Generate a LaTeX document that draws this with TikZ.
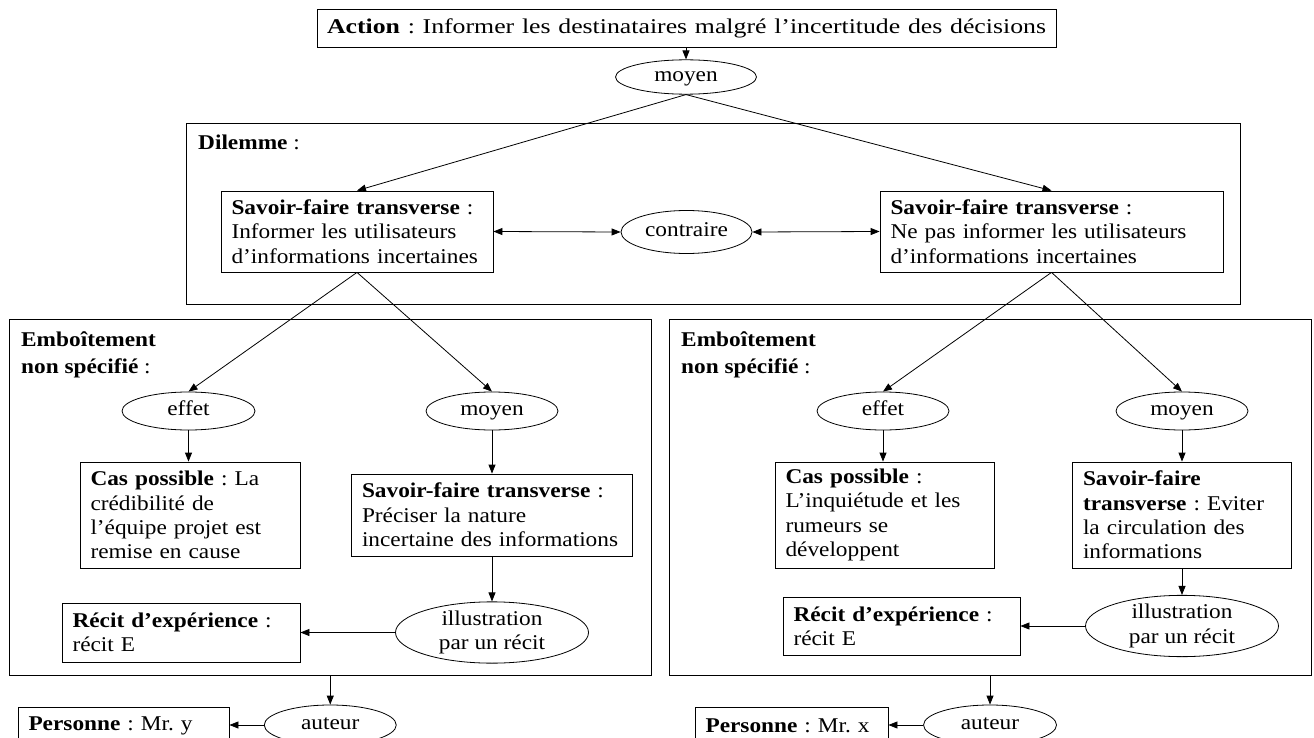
\documentclass[tikz,border=0pt]{standalone}
\usepackage{fontspec}
\setmainfont{Liberation Serif}[FakeStretch=1.11]
\usepackage{graphicx}
\usetikzlibrary{arrows.meta,shapes.geometric}
\frenchspacing
\begin{document}
\begin{tikzpicture}[x=1pt,y=-1pt,
  font=\fontsize{21}{24.3}\selectfont,
  box/.style={draw, line width=0.8pt, inner xsep=10pt, inner ysep=0pt, align=left},
  frame/.style={draw, line width=0.8pt, inner sep=0pt},
  ell/.style={draw, ellipse, line width=0.8pt, inner sep=0pt},
  ellm/.style={draw, ellipse, line width=0.8pt, inner sep=0pt, align=center},
  lbl/.style={anchor=base west, inner sep=0pt},
  arr/.style={line width=0.8pt, -{Triangle[length=9pt,width=7pt]}},
  dbl/.style={line width=0.8pt, {Triangle[length=9pt,width=7pt]}-{Triangle[length=9pt,width=7pt]}}]
\useasboundingbox (0,0) rectangle (1314,738);
\clip (0,0) rectangle (1314,738);

% top
\node[box, minimum width=739pt, minimum height=38pt, text width=719pt] (act) at (686.5,28)
  {\resizebox{719pt}{\height}{\textbf{Action} : Informer les destinataires malgré l’incertitude des décisions}};
\node[ell, minimum width=141pt, minimum height=30pt] (tm) at (686,77) {\strut moyen};

% dilemme
\node[frame, minimum width=1054pt, minimum height=181pt] (dil) at (713,213.5) {};
\node[lbl] (dillbl) at (198,150) {\textbf{Dilemme} :};
\node[box, minimum width=272pt, minimum height=81pt, text width=251pt] (sftL) at (357,231.5)
  {\textbf{Savoir-faire transverse} :\\Informer les utilisateurs\\d’informations incertaines};
\node[box, minimum width=343pt, minimum height=81pt, text width=322pt] (sftR) at (1051.5,231.5)
  {\textbf{Savoir-faire transverse} :\\Ne pas informer les utilisateurs\\d’informations incertaines};
\node[ell, minimum width=131pt, minimum height=43pt] (contr) at (686.5,232) {\strut contraire};

% emboitement frames
\node[frame, minimum width=642.5pt, minimum height=356pt] (embL) at (330.25,497) {};
\node[frame, minimum width=642pt, minimum height=356pt] (embR) at (990,497) {};
\node[lbl] (embLa) at (21,346) {\textbf{Emboîtement}};
\node[lbl] (embLb) at (21,373) {\textbf{non spécifié} :};
\node[lbl] (embRa) at (681,346) {\textbf{Emboîtement}};
\node[lbl] (embRb) at (681,373) {\textbf{non spécifié} :};

% left branch
\node[ell, minimum width=133pt, minimum height=38pt] (effL) at (188.5,411) {\strut effet};
\node[ell, minimum width=132pt, minimum height=38pt] (movL) at (492,411) {\strut moyen};
\node[box, minimum width=220pt, minimum height=106pt, text width=199pt] (casL) at (190,515)
  {\textbf{Cas possible} : La\\crédibilité de\\l’équipe projet est\\remise en cause};
\node[box, minimum width=281pt, minimum height=82pt, text width=260pt] (sft2L) at (492,515)
  {\textbf{Savoir-faire transverse} :\\Préciser la nature\\incertaine des informations};
\node[ellm, minimum width=193pt, minimum height=51pt] (illL) at (492,632.5) {illustration\\par un récit};
\node[box, minimum width=238pt, minimum height=59pt, text width=217pt] (recL) at (181,632.5)
  {\textbf{Récit d’expérience} :\\récit E};
\node[ell, minimum width=132pt, minimum height=40pt] (autL) at (330.25,725) {\strut auteur};
\node[box, minimum width=211pt, minimum height=38pt, text width=190pt] (persL) at (123.5,726)
  {\textbf{Personne} : Mr. y};

% right branch
\node[ell, minimum width=132pt, minimum height=38pt] (effR) at (883,411) {\strut effet};
\node[ell, minimum width=132pt, minimum height=38pt] (movR) at (1182,411) {\strut moyen};
\node[box, minimum width=219pt, minimum height=106pt, text width=198pt] (casR) at (884.5,515)
  {\textbf{Cas possible} :\\L’inquiétude et les\\rumeurs se\\développent};
\node[box, minimum width=219pt, minimum height=106pt, text width=198pt] (sft2R) at (1182,515)
  {\textbf{Savoir-faire}\\\textbf{transverse} : Eviter\\la circulation des\\informations};
\node[ellm, minimum width=193pt, minimum height=52pt] (illR) at (1182,626) {illustration\\par un récit};
\node[box, minimum width=237pt, minimum height=58pt, text width=216pt] (recR) at (901.5,626)
  {\textbf{Récit d’expérience} :\\récit E};
\node[ell, minimum width=133pt, minimum height=40pt] (autR) at (990,725) {\strut auteur};
\node[box, minimum width=193pt, minimum height=38pt, text width=172pt] (persR) at (791.5,726)
  {\textbf{Personne} : Mr. x};

% connectors
\draw[arr] (act.south -| tm.north) -- (tm.north);
\draw[arr] (tm.south) -- (sftL.north);
\draw[arr] (tm.south) -- (sftR.north);
\draw[dbl] (sftL.east) -- (contr.west);
\draw[dbl] (contr.east) -- (sftR.west);

\draw[arr] (sftL.south) -- (effL.north);
\draw[arr] (sftL.south) -- (movL.north);
\draw[arr] (effL.south) -- (casL.north -| effL.south);
\draw[arr] (movL.south) -- (sft2L.north -| movL.south);
\draw[arr] (sft2L.south) -- (illL.north);
\draw[arr] (illL.west) -- (recL.east |- illL.west);
\draw[arr] (embL.south) -- (autL.north);
\draw[arr] (autL.west) -- (persL.east |- autL.west);

\draw[arr] (sftR.south) -- (effR.north);
\draw[arr] (sftR.south) -- (movR.north);
\draw[arr] (effR.south) -- (casR.north -| effR.south);
\draw[arr] (movR.south) -- (sft2R.north -| movR.south);
\draw[arr] (sft2R.south) -- (illR.north);
\draw[arr] (illR.west) -- (recR.east |- illR.west);
\draw[arr] (embR.south) -- (autR.north);
\draw[arr] (autR.west) -- (persR.east |- autR.west);
\end{tikzpicture}
\end{document}
